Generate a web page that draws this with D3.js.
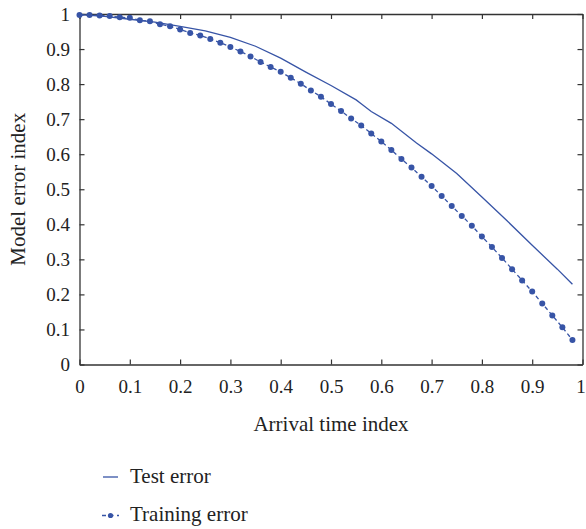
<!DOCTYPE html>
<html>
<head>
<meta charset="utf-8">
<style>
    body { margin: 0; background: #fff; }
</style>
</head>
<body>
<svg id="chart" width="586" height="529"></svg>
<script src="https://cdn.jsdelivr.net/npm/d3@7"></script>
<script>
    // test error (solid line)
    let testX = [0, 0.05, 0.1, 0.15, 0.2, 0.25, 0.3, 0.35, 0.4, 0.45, 0.5, 0.55, 0.56, 0.58, 0.62, 0.67, 0.7, 0.75, 0.8, 0.85, 0.9, 0.95, 0.98]
    let testY = [0.998, 0.993, 0.985, 0.977, 0.965, 0.952, 0.933, 0.908, 0.874, 0.834, 0.796, 0.755, 0.744, 0.722, 0.688, 0.632, 0.601, 0.545, 0.478, 0.41, 0.34, 0.272, 0.229]

    // training error (dashed with dots), one point every 0.02
    let trainX = d3.range(0, 50).map(i => i * 0.02)
    let trainY = [0.997, 0.997, 0.996, 0.994, 0.991, 0.989, 0.982, 0.979, 0.971, 0.965,
                  0.956, 0.946, 0.939, 0.929, 0.918, 0.906, 0.893, 0.879, 0.863, 0.849,
                  0.835, 0.818, 0.801, 0.782, 0.764, 0.743, 0.723, 0.702, 0.682, 0.659,
                  0.636, 0.612, 0.586, 0.562, 0.536, 0.509, 0.481, 0.452, 0.424, 0.396,
                  0.365, 0.335, 0.304, 0.272, 0.240, 0.208, 0.174, 0.140, 0.106, 0.070]

    let xTicks = [0, 0.1, 0.2, 0.3, 0.4, 0.5, 0.6, 0.7, 0.8, 0.9, 1]
    let yTicks = [0, 0.1, 0.2, 0.3, 0.4, 0.5, 0.6, 0.7, 0.8, 0.9, 1]
    let seriesNames = ["Test error", "Training error"]

    let color = "#3754a6"
    let serif = '"Liberation Serif", "Times New Roman", serif'
    let svg = d3.select("#chart")

    let mLeft = 79.5, mRight = 582.5, mTop = 14, mBottom = 364.5

    let x = d3.scaleLinear().domain([0, 1]).range([mLeft, mRight])
    let y = d3.scaleLinear().domain([0, 1]).range([mBottom, mTop])

    let fmt = d => d == 0 || d == 1 ? String(d) : d3.format(".1f")(d)

    // axes, ticks pointing inward, box closed on top and right
    let xAxis = svg.append("g").attr("transform", `translate(0,${mBottom})`)
        .call(d3.axisBottom(x).tickValues(xTicks).tickFormat(fmt).tickSizeInner(-5).tickSizeOuter(0).tickPadding(15))
    svg.append("g").attr("transform", `translate(0,${mTop})`)
        .call(d3.axisTop(x).tickValues(xTicks).tickFormat("").tickSizeInner(-5).tickSizeOuter(0))
    svg.append("g").attr("transform", `translate(${mLeft},0)`)
        .call(d3.axisLeft(y).tickValues(yTicks).tickFormat(fmt).tickSizeInner(-5).tickSizeOuter(0).tickPadding(9.5))
    svg.append("g").attr("transform", `translate(${mRight},0)`)
        .call(d3.axisRight(y).tickValues(yTicks).tickFormat("").tickSizeInner(-5).tickSizeOuter(0))

    svg.selectAll(".domain").attr("stroke", "#333").attr("stroke-width", 1.3)
    svg.selectAll(".tick line").attr("stroke", "#333").attr("stroke-width", 1.2)
    svg.selectAll(".tick text").style("font-size", "19px").style("font-family", serif).attr("fill", "#222")
    // last x label sits at the window edge, nudge it in
    xAxis.selectAll(".tick text").filter(d => d == 1).attr("dx", -2)

    // lines
    let line = d3.line().x(d => x(d[0])).y(d => y(d[1]))
    svg.append("path")
        .datum(testX.map((d, i) => [d, testY[i]]))
        .attr("d", line)
        .attr("fill", "none")
        .attr("stroke", color)
        .attr("stroke-width", 1.3)

    let trainData = trainX.map((d, i) => [d, trainY[i]])
    svg.append("path")
        .datum(trainData)
        .attr("d", line)
        .attr("fill", "none")
        .attr("stroke", color)
        .attr("stroke-width", 1.3)
        .attr("stroke-dasharray", "4,3")

    svg.selectAll("circle.train")
        .data(trainData)
        .enter()
        .append("circle")
        .attr("class", "train")
        .attr("cx", d => x(d[0]))
        .attr("cy", d => y(d[1]))
        .attr("r", 3)
        .attr("fill", color)

    // axis titles
    svg.append("text")
        .attr("x", 331)
        .attr("y", 431)
        .attr("text-anchor", "middle")
        .style("font-family", serif)
        .style("font-size", "21px")
        .attr("fill", "#222")
        .text("Arrival time index")

    svg.append("text")
        .attr("transform", `translate(25,${(mTop + mBottom) / 2}) rotate(-90)`)
        .attr("text-anchor", "middle")
        .style("font-family", serif)
        .style("font-size", "21px")
        .attr("fill", "#222")
        .text("Model error index")

    // legend
    let legend = svg.append("g")
    legend.append("line")
        .attr("x1", 103).attr("x2", 118).attr("y1", 477).attr("y2", 477)
        .attr("stroke", color).attr("stroke-width", 1.3)
    legend.append("text").attr("x", 130).attr("y", 483)
        .style("font-family", serif).style("font-size", "21px").attr("fill", "#222")
        .text(seriesNames[0])

    legend.append("line")
        .attr("x1", 102).attr("x2", 119).attr("y1", 515.5).attr("y2", 515.5)
        .attr("stroke", color).attr("stroke-width", 1.3).attr("stroke-dasharray", "4,3.5")
    legend.append("circle").attr("cx", 110.5).attr("cy", 515.5).attr("r", 2.6).attr("fill", color)
    legend.append("text").attr("x", 130).attr("y", 521)
        .style("font-family", serif).style("font-size", "21px").attr("fill", "#222")
        .text(seriesNames[1])
</script>
</body>
</html>
